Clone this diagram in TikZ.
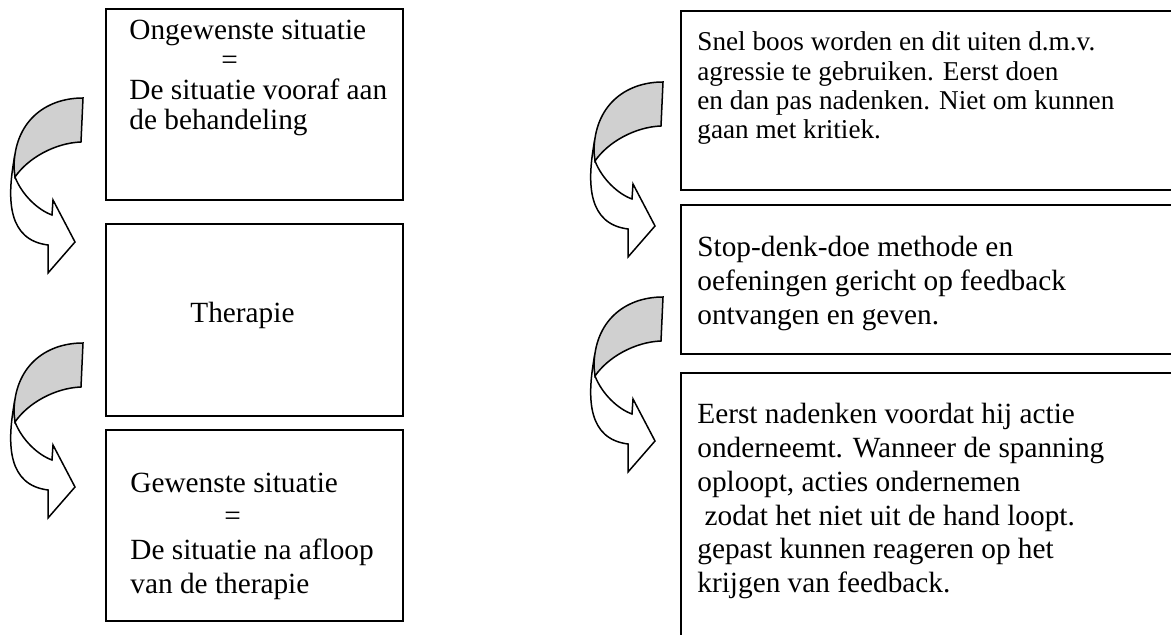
\documentclass[tikz,border=0pt]{standalone}
\usepackage{fontspec}
\setmainfont{Liberation Serif}
\definecolor{bandgray}{RGB}{208,208,208}
% stacked lines whose baseline is the first line's baseline
\newcommand{\textlines}[1]{\begin{tabular}[t]{@{}l@{}}#1\end{tabular}}
\tikzset{
  box/.style={draw=black, line width=1pt, rectangle, inner sep=0pt, anchor=north west},
  txt/.style={inner sep=0pt, anchor=base west, font=\fontsize{14.65}{16.85}\selectfont},
  txttight/.style={txt, font=\fontsize{14.65}{14.9}\selectfont},
  txtsmall/.style={txt, font=\fontsize{13.6}{14.65}\selectfont},
  arrowline/.style={draw=black, line width=0.75pt, line join=miter},
  curvedarrow/.pic={
    % front (white) part of the band with the arrow head
    \path[arrowline, fill=white]
      (14,160) .. controls (7,200) and (8,240) .. (48,245)
      -- (48,273) -- (75,242) -- (53,200) -- (52,215)
      .. controls (38,210) and (22,195) .. (15,177) -- cycle;
    % back (grey) part of the band
    \path[arrowline, fill=bandgray]
      (83,98) .. controls (45,98) and (14,122) .. (14,168)
      -- (15,177) .. controls (28,158) and (55,143) .. (81,142) -- cycle;
  }
}
\begin{document}
\begin{tikzpicture}[x=0.5pt, y=-0.5pt]
\useasboundingbox (0,0) rectangle (1171,635);
\clip (0,0) rectangle (1171,635);
\fill[white] (0,0) rectangle (1171,635);

% left column: situation before, therapy, situation after
\node[box, minimum width=148.5pt, minimum height=95.5pt] (before) at (105,8) {};
\node[box, minimum width=148.5pt, minimum height=96pt] (therapy) at (105,223) {};
\node[box, minimum width=148.5pt, minimum height=95.5pt] (after) at (105,429) {};

\node[txttight] (tbefore) at (129,40) {\textlines{Ongewenste situatie\\\hspace*{46pt}=\\De situatie vooraf aan\\de behandeling}};
\node[txt] (ttherapy) at (190,323) {Therapie};
\node[txt] (tafter) at (130,492) {\textlines{Gewenste situatie\\\hspace*{47pt}=\\De situatie na afloop\\van de therapie}};

% right column: concrete description
\node[box, minimum width=260pt, minimum height=89.5pt] (problem) at (680,10) {};
\node[box, minimum width=260pt, minimum height=74.5pt] (method) at (680,204) {};
\node[box, minimum width=260pt, minimum height=164pt] (goal) at (680,372) {};

\node[txtsmall] (tproblem) at (697,51) {\textlines{Snel boos worden en dit uiten d.m.v.\\agressie te gebruiken. Eerst doen\\en dan pas nadenken. Niet om kunnen\\gaan met kritiek.}};
\node[txt] (tmethod) at (697,257) {\textlines{Stop-denk-doe methode en\\oefeningen gericht op feedback\\ontvangen en geven.}};
\node[txt] (tgoal) at (697,424) {\textlines{Eerst nadenken voordat hij actie\\onderneemt. Wanneer de spanning\\oploopt, acties ondernemen\\\hspace*{3.6pt}zodat het niet uit de hand loopt.\\gepast kunnen reageren op het\\krijgen van feedback.}};

% curved block arrows between the steps
\pic at (0,0) {curvedarrow};
\pic at (0,245) {curvedarrow};
\pic at (580,-16) {curvedarrow};
\pic at (580,199) {curvedarrow};
\end{tikzpicture}
\end{document}
